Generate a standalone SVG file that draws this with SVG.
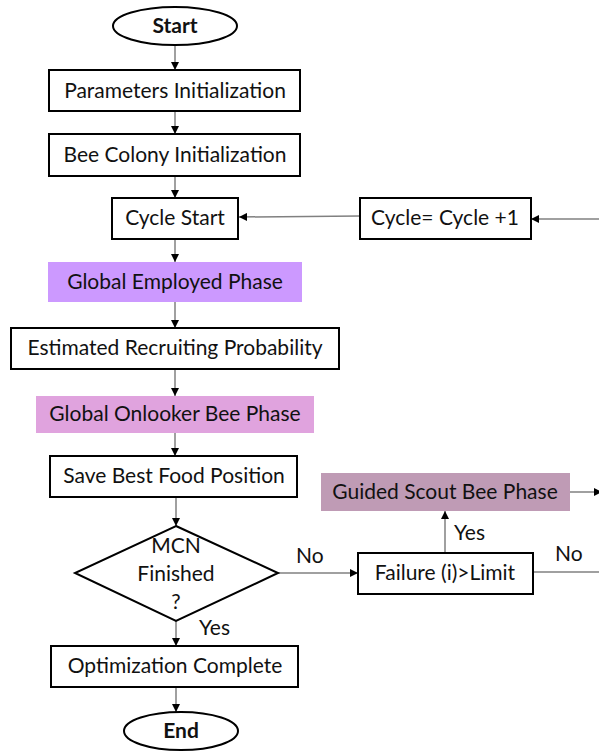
<svg xmlns="http://www.w3.org/2000/svg" width="599" height="751" viewBox="0 0 599 751">
<defs>
<style>
.box{fill:#fff;stroke:#000;stroke-width:2}
.fill1{fill:#CC99FF;stroke:none}
.fill2{fill:#E0A3DE;stroke:none}
.fill3{fill:#BF9BB5;stroke:none}
text{font-family:Lato,"Liberation Sans",Arial,sans-serif;font-size:21px;fill:#111;text-anchor:middle}
.b{font-weight:bold}
.lbl{text-anchor:start}
.con line{stroke:#808080;stroke-width:1.5}
</style>
<marker id="ah" viewBox="0 0 10 10" refX="10" refY="5" markerWidth="8" markerHeight="8" markerUnits="userSpaceOnUse" orient="auto">
<path d="M0,0 L10,5 L0,10 z" fill="#000"/>
</marker>
</defs>
<rect width="599" height="751" fill="#fff"/>
<g class="con">
<line x1="175" y1="45" x2="175" y2="70" marker-end="url(#ah)"/>
<line x1="175" y1="111" x2="175" y2="134" marker-end="url(#ah)"/>
<line x1="175" y1="176" x2="175" y2="198" marker-end="url(#ah)"/>
<line x1="175" y1="239" x2="175" y2="262" marker-end="url(#ah)"/>
<line x1="175" y1="302" x2="175" y2="328" marker-end="url(#ah)"/>
<line x1="175" y1="369" x2="175" y2="396" marker-end="url(#ah)"/>
<line x1="175" y1="433" x2="175" y2="456" marker-end="url(#ah)"/>
<line x1="176" y1="497" x2="176" y2="526" marker-end="url(#ah)"/>
<line x1="176" y1="621" x2="176" y2="646" marker-end="url(#ah)"/>
<line x1="176" y1="687" x2="176" y2="712" marker-end="url(#ah)"/>
<line x1="278" y1="573" x2="358" y2="573" marker-end="url(#ah)"/>
<line x1="445" y1="553" x2="445" y2="511" marker-end="url(#ah)"/>
<line x1="533" y1="572" x2="599" y2="572"/>
<line x1="570" y1="492" x2="602" y2="492" marker-end="url(#ah)"/>
<line x1="599" y1="219" x2="531" y2="219" marker-end="url(#ah)"/>
<line x1="360" y1="216" x2="239" y2="217" marker-end="url(#ah)"/>
</g>
<g id="start"><ellipse class="box" cx="175" cy="26" rx="62" ry="19"/><text class="b" x="175" y="33">Start</text></g>
<g id="params"><rect class="box" x="49" y="70" width="251" height="41"/><text x="175" y="98">Parameters Initialization</text></g>
<g id="colony"><rect class="box" x="49" y="134" width="251" height="42"/><text x="175" y="162">Bee Colony Initialization</text></g>
<g id="cycle"><rect class="box" x="112" y="198" width="126" height="41"/><text x="175" y="225">Cycle Start</text></g>
<g id="inc"><rect class="box" x="360" y="198" width="171" height="41"/><text x="445" y="225">Cycle= Cycle +1</text></g>
<g id="employed"><rect class="fill1" x="48" y="262" width="254" height="40"/><text x="175" y="289">Global Employed Phase</text></g>
<g id="prob"><rect class="box" x="11" y="328" width="328" height="41"/><text x="175" y="355">Estimated Recruiting Probability</text></g>
<g id="onlooker"><rect class="fill2" x="36" y="396" width="278" height="37"/><text x="175" y="421">Global Onlooker Bee Phase</text></g>
<g id="save"><rect class="box" x="50" y="456" width="247" height="41"/><text x="174" y="483">Save Best Food Position</text></g>
<g id="scout"><rect class="fill3" x="321" y="473" width="249" height="38"/><text x="445" y="499">Guided Scout Bee Phase</text></g>
<g id="mcn"><polygon class="box" points="176,526 278,573 176,621 75,573"/><text x="176" y="553">MCN</text><text x="176" y="581">Finished</text><text x="176" y="609">?</text></g>
<g id="failure"><rect class="box" x="358" y="553" width="175" height="41"/><text x="445" y="580">Failure (i)&gt;Limit</text></g>
<g id="opt"><rect class="box" x="51" y="646" width="247" height="41"/><text x="175" y="673">Optimization Complete</text></g>
<g id="end"><ellipse class="box" cx="181" cy="731" rx="57" ry="19"/><text class="b" x="181" y="738">End</text></g>
<g id="labels">
<text class="lbl" x="296" y="563">No</text>
<text class="lbl" x="555" y="561">No</text>
<text class="lbl" x="454" y="540">Yes</text>
<text class="lbl" x="199" y="635">Yes</text>
</g>
</svg>
